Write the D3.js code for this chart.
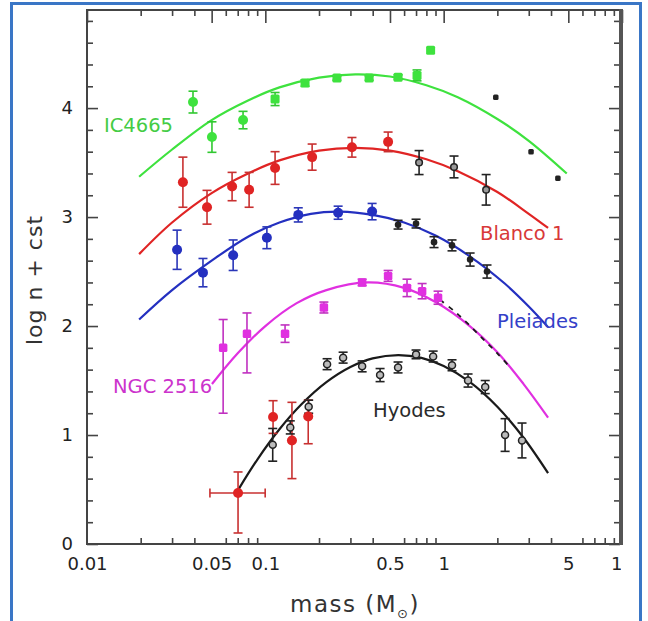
<!DOCTYPE html>
<html>
<head>
<meta charset="utf-8">
<script src="https://cdn.jsdelivr.net/npm/d3@7"></script>
<style>
  body { margin: 0; background: #fff; }
  svg { display: block; }
  text { font-family: "DejaVu Sans", sans-serif; }
</style>
</head>
<body>
<svg id="chart" width="648" height="621"></svg>
<script>
// ---- Axis ticks --------------------------------------------------------
const xLabelValues = [0.01, 0.05, 0.1, 0.5, 1, 5, 10];
const xTickLabels  = ["0.01", "0.05", "0.1", "0.5", "1", "5", "10"];
const yLabelValues = [0, 1, 2, 3, 4];
const yTickLabels  = ["0", "1", "2", "3", "4"];

// ---- Fitted mass functions: [mass, log n + cst] ------------------------
const ic4665Curve = [[0.0196,3.37],[0.03,3.62],[0.05,3.89],[0.08,4.07],[0.12,4.19],[0.2,4.28],[0.32,4.31],[0.5,4.29],[0.8,4.21],[1.2,4.10],[2.0,3.90],[3.0,3.70],[4.9,3.40]];
const blanco1Curve = [[0.0196,2.66],[0.03,2.95],[0.05,3.22],[0.08,3.40],[0.12,3.52],[0.2,3.61],[0.32,3.635],[0.5,3.61],[0.8,3.53],[1.2,3.42],[2.0,3.23],[3.0,3.03],[3.85,2.90]];
const pleiadesCurve = [[0.0196,2.06],[0.03,2.33],[0.05,2.60],[0.08,2.82],[0.12,2.95],[0.18,3.03],[0.262,3.05],[0.4,3.02],[0.6,2.95],[0.9,2.83],[1.4,2.64],[2.2,2.39],[3.0,2.18],[3.85,1.99]];
const ngc2516Curve = [[0.0502,1.468],[0.07,1.75],[0.1,2.00],[0.15,2.21],[0.22,2.33],[0.376,2.40],[0.6,2.35],[0.9,2.22],[1.4,2.00],[2.0,1.76],[2.8,1.47],[3.85,1.16]];
const ngc2516Dashed = [[0.955,2.24],[1.16,2.13],[1.41,2.00],[1.71,1.86],[2.0,1.75],[2.36,1.62]];
const hyadesCurve = [[0.0703,0.495],[0.09,0.773],[0.12,1.053],[0.16,1.284],[0.22,1.485],[0.3,1.624],[0.4,1.703],[0.556,1.734],[0.75,1.708],[1.0,1.634],[1.4,1.487],[2.0,1.259],[2.8,0.977],[3.85,0.65]];

// ---- Measured points: [mass, value, error] (error = ± or [down, up]) ---
const ic4665Round  = [[0.0393,4.055,0.10],[0.0502,3.734,0.14],[0.075,3.89,0.08]];
const ic4665Square = [[0.1134,4.083,0.06],[0.167,4.23,0.03],[0.252,4.275,0.02],[0.382,4.275,0.02],[0.555,4.284,0.02],[0.709,4.30,0.05],[0.845,4.53,0]];
const ic4665Black  = [[1.96,4.10],[3.09,3.60],[4.37,3.355]];

const blanco1Red   = [[0.0345,3.32,0.23],[0.0471,3.09,0.155],[0.0651,3.28,0.13],[0.0811,3.25,0.16],[0.1134,3.45,0.15],[0.183,3.55,0.12],[0.306,3.64,0.09],[0.488,3.69,0.09]];
const blanco1Black = [[0.728,3.50,0.11],[1.143,3.46,0.10],[1.73,3.25,0.14]];

const pleiadesBlue  = [[0.0320,2.70,0.18],[0.0447,2.49,0.13],[0.066,2.65,0.14],[0.102,2.81,0.10],[0.153,3.02,0.065],[0.256,3.04,0.06],[0.397,3.05,0.075]];
const pleiadesBlack = [[0.555,2.93,0.04],[0.70,2.94,0.04],[0.883,2.77,0.05],[1.114,2.74,0.05],[1.407,2.61,0.06],[1.75,2.50,0.06]];

const ngc2516Pink = [[0.058,1.80,[0.60,0.26]],[0.0789,1.93,[0.36,0.19]],[0.129,1.93,0.08],[0.213,2.17,0.05],[0.349,2.40,0.03],[0.488,2.46,0.05],[0.623,2.35,0.08],[0.757,2.32,0.07],[0.93,2.26,0.06]];

const hyadesBlack = [[0.110,0.91,0.15],[0.138,1.07,0.06],[0.175,1.26,0.06],[0.222,1.65,0.05],[0.273,1.71,0.05],[0.349,1.63,0.05],[0.440,1.55,0.06],[0.555,1.62,0.05],[0.700,1.74,0.04],[0.873,1.72,0.05],[1.114,1.64,0.05],[1.37,1.50,0.06],[1.71,1.44,0.06],[2.21,1.00,0.15],[2.75,0.95,0.16]];
const lowMassRed  = [[0.1105,1.165,0.15],[0.141,0.95,0.35],[0.174,1.17,[0.25,0.15]]];
// brown-dwarf bin with mass range [lo, hi]
const lowMassBin  = [[0.0703,0.468,[0.367,0.193],[0.0489,0.0998]]];

// ---- Cluster names ------------------------------------------------------
const clusterNames = ["IC4665", "Blanco 1", "Pleiades", "NGC 2516", "Hyodes"];

// ---- Scales -------------------------------------------------------------
const svg = d3.select("#chart");
const x = d3.scaleLog().domain([0.01, 10]).range([87, 622]);
const y = d3.scaleLinear().domain([0, 4.9]).range([544, 10]);

const COL = { green: "#3ee23e", red: "#e02424", blue: "#2430c0", pink: "#e030e0", black: "#1a1a1a" };

// outer blue frame
svg.append("rect").attr("x", 11.5).attr("y", 3.5).attr("width", 629).attr("height", 640)
  .attr("fill", "none").attr("stroke", "#3a76c6").attr("stroke-width", 3);

// ---- Curves -------------------------------------------------------------
const line = d3.line().x(d => x(d[0])).y(d => y(d[1])).curve(d3.curveCatmullRom);
const curves = svg.append("g").attr("fill", "none").attr("stroke-width", 2.2);
curves.append("path").datum(ic4665Curve).attr("d", line).attr("stroke", COL.green);
curves.append("path").datum(blanco1Curve).attr("d", line).attr("stroke", COL.red);
curves.append("path").datum(pleiadesCurve).attr("d", line).attr("stroke", COL.blue);
curves.append("path").datum(ngc2516Curve).attr("d", line).attr("stroke", COL.pink);
curves.append("path").datum(hyadesCurve).attr("d", line).attr("stroke", COL.black);
curves.append("path").datum(ngc2516Dashed).attr("d", line).attr("stroke", COL.black)
  .attr("stroke-width", 1.8).attr("stroke-dasharray", "5,6");

// ---- Error bars -----------------------------------------------------------
function errorBars(pts, color) {
  const g = svg.append("g").attr("stroke", color).attr("stroke-width", 1.6);
  pts.forEach(p => {
    const e = p[2];
    if (!e) return;
    const lo = Array.isArray(e) ? e[0] : e, hi = Array.isArray(e) ? e[1] : e;
    const cx = x(p[0]), y0 = y(p[1] - lo), y1 = y(p[1] + hi);
    g.append("line").attr("x1", cx).attr("x2", cx).attr("y1", y0).attr("y2", y1);
    g.append("line").attr("x1", cx - 4.5).attr("x2", cx + 4.5).attr("y1", y0).attr("y2", y0);
    g.append("line").attr("x1", cx - 4.5).attr("x2", cx + 4.5).attr("y1", y1).attr("y2", y1);
    if (p[3]) {
      const xa = x(p[3][0]), xb = x(p[3][1]), cy = y(p[1]);
      g.append("line").attr("x1", xa).attr("x2", xb).attr("y1", cy).attr("y2", cy);
      g.append("line").attr("x1", xa).attr("x2", xa).attr("y1", cy - 4.5).attr("y2", cy + 4.5);
      g.append("line").attr("x1", xb).attr("x2", xb).attr("y1", cy - 4.5).attr("y2", cy + 4.5);
    }
  });
}
function dots(pts, fill, r, stroke) {
  svg.append("g").selectAll("circle").data(pts).join("circle")
    .attr("cx", d => x(d[0])).attr("cy", d => y(d[1])).attr("r", r)
    .attr("fill", fill).attr("stroke", stroke || "none").attr("stroke-width", 1.5);
}
function squares(pts, fill, s) {
  svg.append("g").selectAll("rect").data(pts).join("rect")
    .attr("x", d => x(d[0]) - s / 2).attr("y", d => y(d[1]) - s / 2)
    .attr("width", s).attr("height", s).attr("rx", 1.5).attr("fill", fill);
}

errorBars(ic4665Round, "#30c830");
errorBars(ic4665Square, "#30c830");
dots(ic4665Round, COL.green, 5);
squares(ic4665Square, COL.green, 9);
squares(ic4665Black, "#222", 5.5);

errorBars(blanco1Red, "#c83030");
dots(blanco1Red, COL.red, 5);
errorBars(blanco1Black, "#222");
dots(blanco1Black, "#999", 3.3, "#222");

errorBars(pleiadesBlue, "#2a36b8");
dots(pleiadesBlue, COL.blue, 5);
errorBars(pleiadesBlack, "#222");
dots(pleiadesBlack, "#222", 3.3);

errorBars(ngc2516Pink, "#c030c0");
squares(ngc2516Pink, COL.pink, 8.5);

errorBars(lowMassRed, "#c83030");
errorBars(lowMassBin, "#c83030");
errorBars(hyadesBlack, "#222");
dots(lowMassRed, COL.red, 5);
dots(lowMassBin, COL.red, 5);
dots(hyadesBlack, "#bbb", 3.5, "#222");

// ---- Frame and axes ---------------------------------------------------------
const minorX = x.ticks().filter(v => !xLabelValues.some(m => Math.abs(m - v) / m < 1e-6));
const minorY = y.ticks(25).filter(v => !yLabelValues.includes(v));
const axisColor = "#444";

function styleAxis(g) {
  g.select(".domain").remove();
  g.selectAll(".tick line").attr("stroke", axisColor).attr("stroke-width", 1.6);
  g.selectAll(".tick text").attr("fill", "#222").attr("font-size", 18)
    .attr("font-family", "DejaVu Sans, sans-serif");
}
svg.append("g").attr("transform", "translate(0,544)")
  .call(d3.axisBottom(x).tickValues(minorX).tickSize(-6).tickFormat("")).call(styleAxis);
svg.append("g").attr("transform", "translate(0,10)")
  .call(d3.axisTop(x).tickValues(minorX).tickSize(-6).tickFormat("")).call(styleAxis);
svg.append("g").attr("transform", "translate(0,10)")
  .call(d3.axisTop(x).tickValues(xLabelValues).tickSize(-13).tickFormat("")).call(styleAxis);

svg.append("defs").append("clipPath").attr("id", "plotClip")
  .append("rect").attr("x", 0).attr("y", 0).attr("width", 621).attr("height", 621);
svg.append("g").attr("transform", "translate(0,544)").attr("clip-path", "url(#plotClip)")
  .call(d3.axisBottom(x).tickValues(xLabelValues).tickSize(-13).tickPadding(13)
    .tickFormat((d, i) => xTickLabels[i])).call(styleAxis);

svg.append("g").attr("transform", "translate(87,0)")
  .call(d3.axisLeft(y).tickValues(minorY).tickSize(-6).tickFormat("")).call(styleAxis);
svg.append("g").attr("transform", "translate(87,0)")
  .call(d3.axisLeft(y).tickValues(yLabelValues).tickSize(-11).tickPadding(14)
    .tickFormat((d, i) => yTickLabels[i])).call(styleAxis);
svg.append("g").attr("transform", "translate(620,0)")
  .call(d3.axisRight(y).tickValues(minorY).tickSize(-6).tickFormat("")).call(styleAxis);
svg.append("g").attr("transform", "translate(620,0)")
  .call(d3.axisRight(y).tickValues(yLabelValues).tickSize(-11).tickFormat("")).call(styleAxis);

const frame = svg.append("g").attr("stroke", axisColor).attr("fill", "none");
frame.append("rect").attr("x", 87).attr("y", 10).attr("width", 534).attr("height", 534).attr("stroke-width", 2);
frame.append("line").attr("x1", 621).attr("x2", 621).attr("y1", 9).attr("y2", 545)
  .attr("stroke-width", 4).attr("stroke", "#555");

// ---- Axis titles ---------------------------------------------------------------
svg.append("text").attr("transform", "translate(42,280) rotate(-90)")
  .attr("text-anchor", "middle").attr("font-size", 22).attr("letter-spacing", 1)
  .attr("fill", "#333").text("log n + cst");
const xt = svg.append("text").attr("x", 355).attr("y", 612).attr("text-anchor", "middle")
  .attr("font-size", 23).attr("letter-spacing", 1.5).attr("fill", "#333");
xt.append("tspan").text("mass  (M");
xt.append("tspan").attr("font-size", 13).attr("dy", 6).text("⊙");
xt.append("tspan").attr("dy", -6).text(")");

// ---- Cluster labels --------------------------------------------------------------
const labelPos = [[104,132,"#44cc44"],[480,240,"#d83838"],[497,328,"#3440c8"],[113,393,"#cc33cc"],[373,417,"#2a2a2a"]];
svg.append("g").selectAll("text").data(clusterNames).join("text")
  .attr("x", (d, i) => labelPos[i][0]).attr("y", (d, i) => labelPos[i][1])
  .attr("fill", (d, i) => labelPos[i][2]).attr("font-size", 19.5).text(d => d);
</script>
</body>
</html>
